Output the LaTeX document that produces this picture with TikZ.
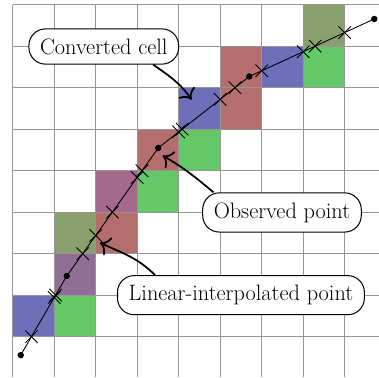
\documentclass[tikz,border=0pt]{standalone}
\usetikzlibrary{arrows.meta,shapes.misc}
\definecolor{cblue}{RGB}{110,110,185}
\definecolor{cred}{RGB}{180,110,110}
\definecolor{cgreen}{RGB}{100,200,105}
\definecolor{cpurple}{RGB}{165,105,140}
\definecolor{cpurpleb}{RGB}{145,110,150}
\definecolor{colive}{RGB}{137,160,110}
\definecolor{gridgray}{RGB}{150,150,150}
\begin{document}
\begin{tikzpicture}[x=1cm,y=-1cm,
  gridline/.style={gridgray,line width=0.8pt},
  track/.style={black,line width=0.6pt},
  xmark/.style={cross out,draw=black,line width=0.6pt,minimum size=0.28cm,inner sep=0pt},
  obsdot/.style={circle,fill=black,inner sep=0pt,minimum size=0.155cm},
  callout/.style={draw=black,fill=white,line width=0.7pt,rounded corners=0.4cm,
    inner xsep=7.6pt,inner ysep=6.6pt,font=\fontsize{15.3}{18}\selectfont},
  pointer/.style={-{To[scale=1.5]},line width=1.2pt}
]
\useasboundingbox (-0.306,-0.113) rectangle (8.827,8.974);
% converted cells
\foreach \c/\r/\col in {0/7/cblue,1/7/cgreen,1/6/cpurpleb,1/5/colive,2/5/cred,
  2/4/cpurple,3/4/cgreen,3/3/cred,4/3/cgreen,4/2/cblue,5/2/cred,5/1/cred,
  6/1/cblue,7/1/cgreen,7/0/colive}
  \fill[\col] (\c,\r) rectangle ++(1,1);
% grid
\foreach \i in {0,...,8} \draw[gridline] (\i,0) -- (\i,8.974);
\foreach \j in {0,...,8} \draw[gridline] (0,\j) -- (8.827,\j);
% observed points
\node[obsdot] (p1) at (0.193,8.445) {};
\node[obsdot] (p2) at (1.302,6.538) {};
\node[obsdot] (p3) at (3.508,3.452) {};
\node[obsdot] (p4) at (5.701,1.731) {};
\node[obsdot] (p5) at (8.713,0.344) {};
\draw[track] (p1.center) -- (p2.center) -- (p3.center) -- (p4.center) -- (p5.center);
% interpolated points
\node[xmark] (x1) at (0.452,8) {};
\node[xmark] (x2) at (1,7.057) {};
\node[xmark] (x3) at (1.033,7) {};
\node[xmark] (x4) at (1.687,6) {};
\node[xmark] (x5) at (2,5.562) {};
\node[xmark] (x6) at (2.401,5) {};
\node[xmark] (x7) at (3,4.163) {};
\node[xmark] (x8) at (3.116,4) {};
\node[xmark] (x9) at (4,3.066) {};
\node[xmark] (x10) at (4.084,3) {};
\node[xmark] (x11) at (5,2.281) {};
\node[xmark] (x12) at (5.358,2) {};
\node[xmark] (x13) at (6,1.593) {};
\node[xmark] (x14) at (7,1.133) {};
\node[xmark] (x15) at (7.288,1) {};
\node[xmark] (x16) at (8,0.672) {};
% labels
\node[callout] (conv) at (2.195,1.008) {Converted cell};
\node[callout] (obs) at (6.489,5.007) {Observed point};
\node[callout] (lin) at (5.50,7.0) {Linear-interpolated point};
\coordinate (t1) at (4.313,2.29);
\coordinate (t2) at (3.614,3.637);
\coordinate (t3) at (2.104,5.736);
\draw[pointer] ([xshift=1.19cm]conv.south) to[out=-35,in=125] (t1);
\draw[pointer] ([xshift=-1.65cm]obs.north) to[out=140,in=-30] (t2);
\draw[pointer] ([xshift=-2.07cm]lin.north) to[out=135,in=-25] (t3);
\end{tikzpicture}
\end{document}
